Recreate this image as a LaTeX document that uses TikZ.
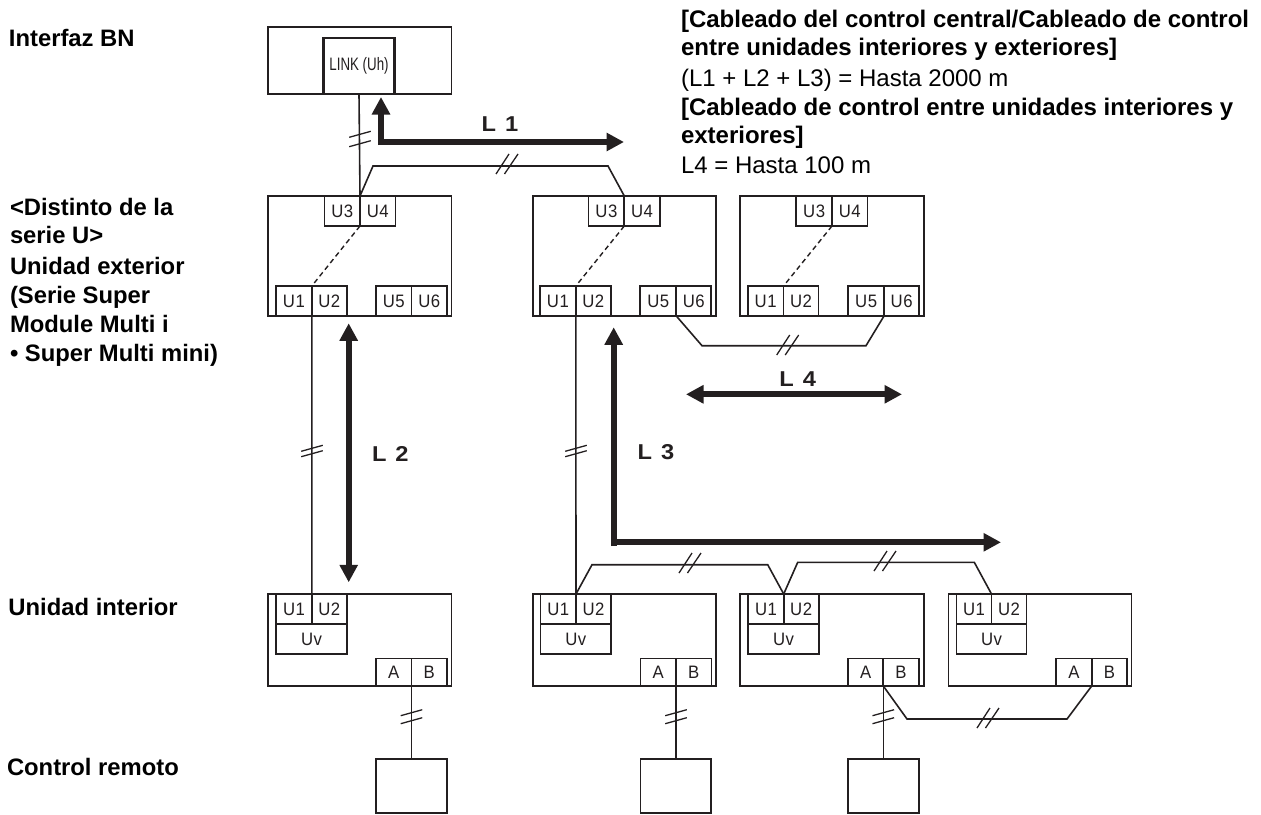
\documentclass[tikz,border=0pt]{standalone}
\usepackage{fontspec}
\setmainfont{Liberation Sans}
\newfontfamily\termfont[LetterSpace=3,FakeStretch=0.93]{Liberation Sans}
\newfontfamily\linkfont[FakeStretch=0.74]{Liberation Sans}
\newfontfamily\lenfont[FakeStretch=1.1]{Liberation Sans}
\usetikzlibrary{arrows.meta}
\definecolor{linecol}{RGB}{35,31,32}
\tikzset{
  x=1pt,y=-1pt,
  every node/.style={inner sep=0pt,outer sep=0pt},
  unitbox/.style={draw=linecol,line width=1.7pt,anchor=north west},
  termbox/.style={draw=linecol,line width=1.7pt,fill=white,anchor=north west,font=\termfont\fontsize{18}{18}\selectfont,text=linecol},
  wire/.style={draw=linecol,line width=1.6pt,line join=miter},
  tick/.style={draw=linecol,line width=1.3pt},
  dashwire/.style={draw=linecol,line width=1.4pt,dash pattern=on 5pt off 3.5pt},
  heavy/.style={draw=linecol,line width=6pt,line join=miter,{Triangle[length=17.5pt,width=17.5pt]}-{Triangle[length=17.5pt,width=17.5pt]}},
  heavyr/.style={draw=linecol,line width=6pt,line join=miter,line cap=butt,-{Triangle[length=17.5pt,width=17.5pt]}},
  side/.style={anchor=base west,font=\fontsize{23.8}{23.8}\selectfont\bfseries,text=black},
  topt/.style={anchor=base west,font=\fontsize{24}{24}\selectfont,text=black},
  arrowlab/.style={font=\lenfont\fontsize{21.5}{21.5}\selectfont\bfseries,text=linecol},
}
% name, x1, y1, x2, y2, text
\newcommand{\unitb}[5]{\node[unitbox,minimum width={(#4-#2)*1pt},minimum height={(#5-#3)*1pt}] (#1) at (#2,#3) {};}
\newcommand{\termb}[6]{\node[termbox,minimum width={(#4-#2)*1pt},minimum height={(#5-#3)*1pt}] (#1) at (#2,#3) {#6};}
\newcommand{\lab}[1]{#1\hspace{3pt}}
\newcommand{\outdoor}[8]{%
  \unitb{#1}{#2}{196}{#3}{316}
  \termb{#1u3}{#4}{196}{#5}{226}{\lab{U3}}
  \termb{#1u4}{#5}{196}{#5+35.5}{226}{\lab{U4}}
  \termb{#1u1}{#6}{286}{#7}{316}{\lab{U1}}
  \termb{#1u2}{#7}{286}{#7+35}{316}{\lab{U2}}
  #8
  \draw[dashwire] (#1u3.south east) -- (#1u1.north east);
}
\newcommand{\indoor}[7]{%
  \unitb{#1}{#2}{594}{#3}{686}
  \termb{#1u1}{#4}{594}{#5}{624}{\lab{U1}}
  \termb{#1u2}{#5}{594}{#5+35}{624}{\lab{U2}}
  \termb{#1uv}{#4}{624}{#5+35}{654}{\lab{Uv}}
  \termb{#1a}{#6}{658.5}{#7}{686}{A}
  \termb{#1b}{#7}{658.5}{#7+35.5}{686}{B}
}
% x, y, half separation
\newcommand{\vtick}[3]{%
  \draw[tick] (#1-10.8,#2-#3+3) -- (#1+10.8,#2-#3-3);
  \draw[tick] (#1-10.8,#2+#3+3) -- (#1+10.8,#2+#3-3);}
\newcommand{\htick}[2]{%
  \draw[tick] (#1-11,#2+9) -- (#1+2,#2-11);
  \draw[tick] (#1-2.5,#2+9) -- (#1+11,#2-11);}
\begin{document}
\begin{tikzpicture}
\useasboundingbox (0,0) rectangle (1261,814);
% BN interface
\unitb{bn}{268.3}{27}{451.5}{94}
\node[draw=linecol,line width=2.2pt,anchor=north west,minimum width=71pt,minimum height=56pt,font=\linkfont\fontsize{18}{18}\selectfont,text=linecol] (link) at (323.5,38) {LINK (Uh)};
% outdoor units
\outdoor{oa}{268.3}{451.5}{324.5}{360}{276}{311.8}{%
  \termb{oau5}{376}{286}{411.5}{316}{\lab{U5}}
  \termb{oau6}{411.5}{286}{447}{316}{\lab{U6}}}
\outdoor{ob}{532.7}{715.7}{588.5}{624.3}{540}{575.8}{%
  \termb{obu5}{640.3}{286}{676.3}{316}{\lab{U5}}
  \termb{obu6}{676.3}{286}{711.3}{316}{\lab{U6}}}
\outdoor{oc}{740.3}{924}{796.3}{832}{747.8}{783.5}{%
  \termb{ocu5}{848.2}{286}{884}{316}{\lab{U5}}
  \termb{ocu6}{884}{286}{919.2}{316}{\lab{U6}}}
% indoor units
\indoor{ia}{268.3}{451.5}{276.3}{311.8}{376}{411.5}
\indoor{ib}{532.7}{716}{540.5}{576}{640.5}{676}
\indoor{ic}{740.3}{924}{748.3}{783.7}{848}{883.3}
\indoor{id}{948.5}{1131.5}{956.5}{991.5}{1056.3}{1091.7}
% remote controllers
\unitb{ra}{376}{758.7}{447}{813.3}
\unitb{rb}{640.5}{758.7}{711}{813.3}
\unitb{rc}{848}{758.7}{919}{813.3}
% wires
\draw[wire] (link.south) -- (oau3.north east);
\draw[wire] (oau3.north east) -- (373,166) -- (608,166) -- (obu3.north east);
\draw[wire] (oau1.south east) -- (iau1.north east);
\draw[wire] (obu1.south east) -- (ibu1.north east);
\draw[wire] (obu5.south east) -- (702,345.7) -- (866,345.7) -- (ocu5.south east);
\draw[wire] (ibu1.north east) -- (592,564.7) -- (767.7,564.7) -- (icu1.north east);
\draw[wire] (icu1.north east) -- (797.7,562.3) -- (974.3,562.3) -- (idu1.north east);
\draw[wire] (iaa.south east) -- (ra.north -| iaa.south east);
\draw[wire] (iba.south east) -- (rb.north -| iba.south east);
\draw[wire] (ica.south east) -- (rc.north -| ica.south east);
\draw[wire] (ica.south east) -- (907,719) -- (1067,719) -- (ida.south east);
% break marks
\vtick{360}{139}{4.7}
\vtick{312}{451}{2.7}
\vtick{576}{451}{2.7}
\vtick{411.5}{716.7}{4}
\vtick{676}{716.7}{4}
\vtick{883.3}{716.7}{4}
\htick{507}{165}
\htick{787.7}{346}
\htick{690}{564}
\htick{885}{562}
\htick{988}{719}
% length arrows
\coordinate (l1a) at (381,97);
\coordinate (l1b) at (378,142);
\coordinate (l1c) at (624,142);
\draw[heavyr] (l1b) -- (l1c);
\draw[heavyr] (381,145) -- (l1a);
\node[arrowlab] (l1t) at (500,124) {L\hspace{9pt}1};
\coordinate (l2a) at (348.7,323.3);
\coordinate (l2b) at (348.7,582.3);
\draw[heavy] (l2a) -- (l2b);
\node[arrowlab] (l2t) at (390.3,454.3) {L\hspace{9pt}2};
\coordinate (l3a) at (613.7,327.3);
\coordinate (l3b) at (613.7,546);
\coordinate (l3c) at (1001,542.3);
\draw[heavyr] (l3b) -- (l3a);
\draw[heavyr] (611,542.3) -- (l3c);
\node[arrowlab] (l3t) at (656,452.3) {L\hspace{9pt}3};
\coordinate (l4a) at (686,394.3);
\coordinate (l4b) at (902,394.3);
\draw[heavy] (l4a) -- (l4b);
\node[arrowlab] (l4t) at (797.7,379) {L\hspace{9pt}4};
% side labels
\node[side] (s1) at (9,46.7) {Interfaz BN};
\node[side] (s2) at (10,215) {<Distinto de la};
\node[side] (s3) at (10,243.3) {serie U>};
\node[side] (s4) at (10,274.3) {Unidad exterior};
\node[side] (s5) at (10,303) {(Serie Super};
\node[side] (s6) at (10,332.3) {Module Multi i};
\node[side] (s7) at (10,361.7) {• Super Multi mini)};
\node[side] (s8) at (8.5,615) {Unidad interior};
\node[side] (s9) at (7,775.7) {Control remoto};
% top notes
\node[topt] (t1) at (681,27.3) {\bfseries [Cableado del control central/Cableado de control};
\node[topt] (t2) at (681,55) {\bfseries entre unidades interiores y exteriores]};
\node[topt] (t3) at (681,86) {(L1 + L2 + L3) = Hasta 2000 m};
\node[topt] (t4) at (681,115) {\bfseries [Cableado de control entre unidades interiores y};
\node[topt] (t5) at (681,143.3) {\bfseries exteriores]};
\node[topt] (t6) at (681,173.3) {L4 = Hasta 100 m};
\end{tikzpicture}
\end{document}
